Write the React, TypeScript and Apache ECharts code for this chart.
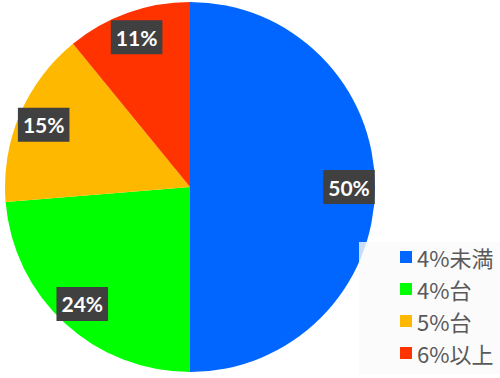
import React, { useEffect, useRef } from "react";
import * as echarts from "echarts";

const categories = ["4%未満", "4%台", "5%台", "6%以上"];
const values = [50.0, 23.7, 15.4, 10.9];
const colors = ["#0066ff", "#00ff00", "#ffb800", "#ff3300"];

export default function App() {
  const ref = useRef<HTMLDivElement>(null);
  useEffect(() => {
    if (!ref.current) return;
    const chart = echarts.init(ref.current, null, { renderer: "svg" });
    const data = categories.map((name, i) => ({ name, value: values[i] }));
    chart.setOption({
      animation: false,
      color: colors,
      legend: {
        orient: "vertical",
        left: 359,
        top: 242,
        width: 141,
        padding: [4, 6, 10, 41],
        backgroundColor: "rgba(250,250,250,0.8)",
        itemWidth: 12,
        itemHeight: 12,
        itemGap: 10,
        icon: "rect",
        data: categories,
        textStyle: {
          fontFamily: "Noto Sans CJK JP",
          fontSize: 22,
          lineHeight: 22,
          color: "#595959",
        },
      },
      series: [
        {
          type: "pie",
          center: [190, 187],
          radius: [0, 185],
          startAngle: 90,
          clockwise: true,
          label: { show: false },
          labelLine: { show: false },
          silent: true,
          data,
        },
        {
          type: "pie",
          center: [190, 187],
          radius: [141, 171],
          startAngle: 90,
          clockwise: true,
          silent: true,
          itemStyle: { color: "rgba(0,0,0,0)" },
          labelLine: { show: false },
          label: {
            show: true,
            position: "inside",
            formatter: (p: any) => Math.round(p.value) + "%",
            fontFamily: "Lato",
            fontWeight: "bold",
            fontSize: 21,
            color: "#ffffff",
            backgroundColor: "#404040",
            padding: [7, 5, 6, 5],
          },
          data,
        },
      ],
    });
    return () => chart.dispose();
  }, []);
  return <div ref={ref} style={{ width: 500, height: 378, position: "absolute", left: 0, top: 0 }} />;
}
